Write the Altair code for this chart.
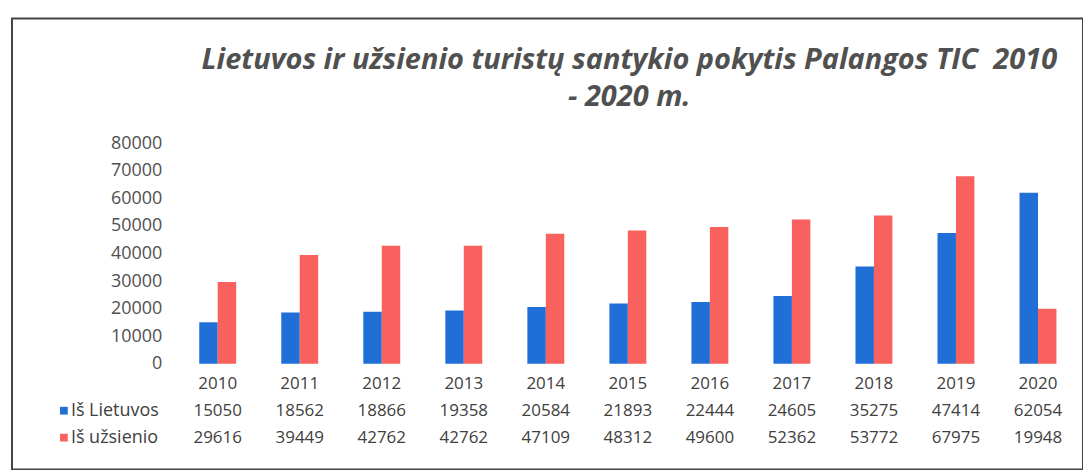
import altair as alt
import pandas as pd

years = ["2010", "2011", "2012", "2013", "2014", "2015", "2016", "2017", "2018", "2019", "2020"]
series_names = ["Iš Lietuvos", "Iš užsienio"]
lietuvos = [15050, 18562, 18866, 19358, 20584, 21893, 22444, 24605, 35275, 47414, 62054]
uzsienio = [29616, 39449, 42762, 42762, 47109, 48312, 49600, 52362, 53772, 67975, 19948]
y_ticks = [0, 10000, 20000, 30000, 40000, 50000, 60000, 70000, 80000]
title_lines = ["Lietuvos ir užsienio turistų santykio pokytis Palangos TIC\u00a0\u00a02010", "- 2020 m."]
colors = ["#1f6fd6", "#f8615e"]

FONT = "Open Sans"
TEXT_COL = "#404040"

bars_rows = []
for i, y in enumerate(years):
    bars_rows.append({"year": y, "series": series_names[0], "value": lietuvos[i]})
    bars_rows.append({"year": y, "series": series_names[1], "value": uzsienio[i]})
bars_df = pd.DataFrame(bars_rows)

row_keys = ["year"] + series_names
table_rows = []
for i, y in enumerate(years):
    table_rows.append({"year": y, "row": "year", "label": y})
    table_rows.append({"year": y, "row": series_names[0], "label": str(lietuvos[i])})
    table_rows.append({"year": y, "row": series_names[1], "label": str(uzsienio[i])})
table_df = pd.DataFrame(table_rows)

legend_df = pd.DataFrame({"row": series_names, "series": series_names})

x_scale = alt.Scale(domain=years, range=[165, 1069], paddingInner=0.55, paddingOuter=0.275)
row_scale = alt.Scale(domain=row_keys, range=[366, 420], padding=0)
color_scale = alt.Scale(domain=series_names, range=colors)

bars = alt.Chart(bars_df).mark_bar().encode(
    x=alt.X("year:N", scale=x_scale, axis=None),
    xOffset=alt.XOffset("series:N", sort=series_names),
    y=alt.Y("value:Q", scale=alt.Scale(domain=[0, 80000], range=[346, 125], nice=False),
            axis=alt.Axis(values=y_ticks, format="d", grid=False, domain=False, ticks=False,
                          labelPadding=0, offset=-150, labelFont=FONT, labelFontSize=18,
                          labelColor="#505050", title=None)),
    color=alt.Color("series:N", scale=color_scale, legend=None),
)

table = alt.Chart(table_df).mark_text(font=FONT, fontSize=17, color=TEXT_COL, baseline="middle").encode(
    x=alt.X("year:N", scale=x_scale, axis=None),
    y=alt.Y("row:N", scale=row_scale, axis=None),
    text="label:N",
)

legend_sq = alt.Chart(legend_df).mark_point(shape="square", filled=True, size=60, opacity=1).encode(
    x=alt.value(52),
    y=alt.Y("row:N", scale=row_scale, axis=None),
    color=alt.Color("series:N", scale=color_scale, legend=None),
)

legend_txt = alt.Chart(legend_df).mark_text(font=FONT, fontSize=18, color=TEXT_COL, align="left",
                                             baseline="middle").encode(
    x=alt.value(59),
    y=alt.Y("row:N", scale=row_scale, axis=None),
    text="series:N",
)

chart = alt.layer(bars, table, legend_sq, legend_txt).resolve_scale(y="independent").properties(
    width=1073,
    height=452,
    background="white",
    autosize=alt.AutoSizeParams(type="none"),
    padding={"left": 4, "top": 10, "right": 0, "bottom": 0},
    title=alt.TitleParams(text=title_lines, anchor="middle", dx=82, offset=-94,
                          font="Open Sans", fontSize=29, fontStyle="italic", fontWeight="bold",
                          color="#505050", lineHeight=37),
).configure_view(stroke="#444444", strokeWidth=2)

chart.save("out.html", embed_options={"renderer": "svg", "actions": False})
